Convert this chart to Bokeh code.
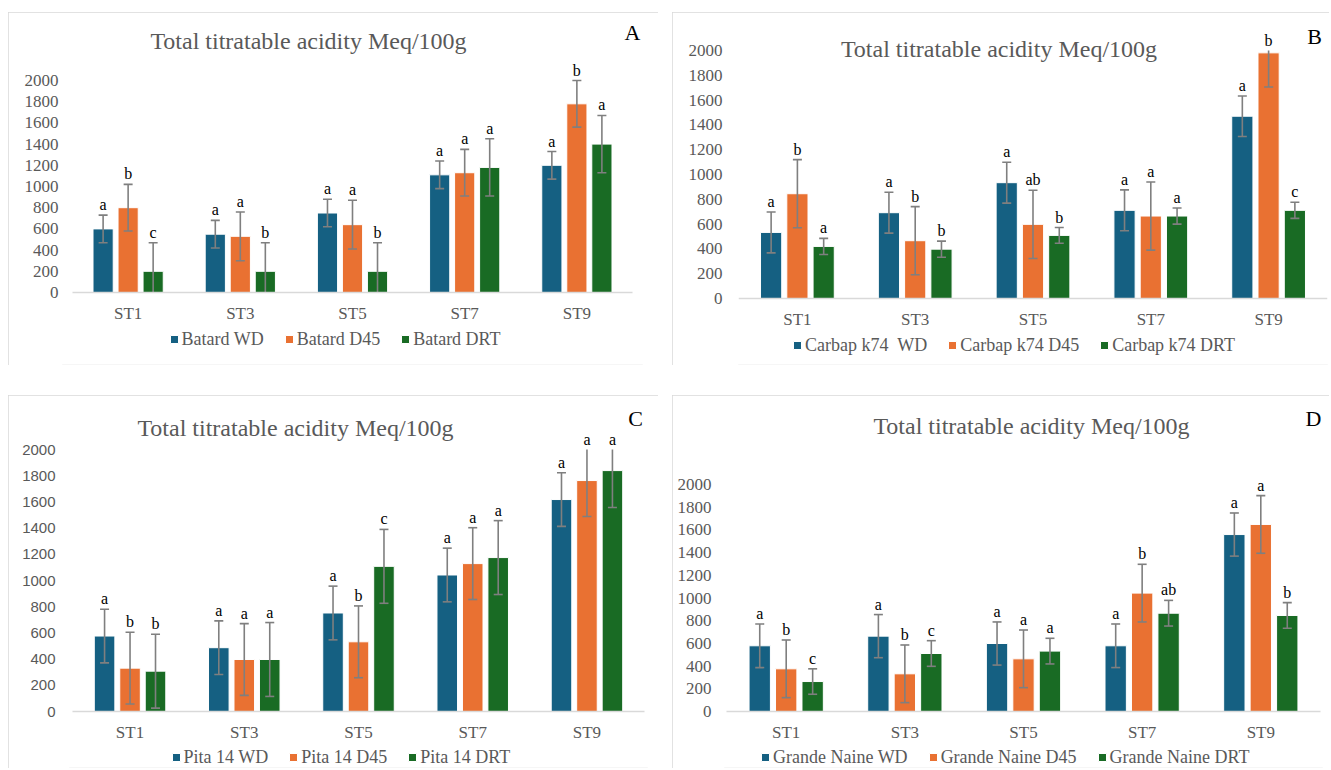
import numpy as np
from bokeh.plotting import figure
from bokeh.models import (ColumnDataSource, FactorRange, Range1d, FixedTicker,
                          Legend, LegendItem, Label, Spacer)
from bokeh.transform import dodge
from bokeh.layouts import row, column
from bokeh.core.properties import value
from bokeh.embed import file_html
from bokeh.resources import INLINE

# ---------------- data ----------------
cats = ["ST1", "ST3", "ST5", "ST7", "ST9"]
yticks = [0, 200, 400, 600, 800, 1000, 1200, 1400, 1600, 1800, 2000]
title_text = "Total titratable acidity Meq/100g"

# Panel A - Batard
a_names = ["Batard WD", "Batard D45", "Batard DRT"]
a_wd = [600, 550, 750, 1110, 1200]
a_wd_err = [130, 130, 130, 130, 130]
a_d45 = [800, 530, 640, 1130, 1780]
a_d45_err = [220, 230, 230, 220, 220]
a_drt = [200, 200, 200, 1180, 1400]
a_drt_err = [270, 270, 270, 270, 270]
a_wd_let = ["a", "a", "a", "a", "a"]
a_d45_let = ["b", "a", "a", "a", "b"]
a_drt_let = ["c", "b", "b", "a", "a"]

# Panel B - Carbap k74
b_names = ["Carbap k74  WD", "Carbap k74 D45", "Carbap k74 DRT"]
b_wd = [533, 692, 934, 711, 1470]
b_wd_err = [165, 165, 165, 165, 163]
b_d45 = [845, 466, 598, 665, 1981]
b_d45_err = [275, 275, 275, 275, 275]
b_drt = [420, 398, 509, 665, 711]
b_drt_err = [65, 65, 63, 65, 65]
b_wd_let = ["a", "a", "a", "a", "a"]
b_d45_let = ["b", "b", "ab", "a", "b"]
b_drt_let = ["a", "b", "b", "a", "c"]

# Panel C - Pita 14
c_names = ["Pita 14 WD", "Pita 14 D45", "Pita 14 DRT"]
c_wd = [576, 487, 752, 1042, 1618]
c_wd_err = [205, 205, 205, 205, 205]
c_d45 = [331, 397, 532, 1129, 1763]
c_d45_err = [274, 274, 274, 274, 274]
c_drt = [308, 397, 1108, 1175, 1839]
c_drt_err = [282, 282, 282, 282, 282]
c_wd_let = ["a", "a", "a", "a", "a"]
c_d45_let = ["b", "a", "b", "a", "a"]
c_drt_let = ["b", "a", "c", "a", "a"]

# Panel D - Grande Naine
d_names = ["Grande Naine WD", "Grande Naine D45", "Grande Naine DRT"]
d_wd = [579, 664, 599, 579, 1559]
d_wd_err = [192, 190, 190, 192, 190]
d_d45 = [376, 332, 464, 1043, 1648]
d_d45_err = [254, 254, 254, 254, 254]
d_drt = [264, 511, 532, 866, 846]
d_drt_err = [112, 113, 113, 113, 113]
d_wd_let = ["a", "a", "a", "a", "a"]
d_d45_let = ["b", "b", "a", "b", "a"]
d_drt_let = ["c", "c", "a", "ab", "b"]

# ---------------- style ----------------
SERIF = "Liberation Serif"
SANS = "Liberation Sans"
GRAY = "#595959"
ERR = "#7f7f7f"
COLORS = ["#156082", "#E97132", "#196B24"]
OFFS = [-0.223, 0.0, 0.223]
AXMAX = 2000
LEG_PAD = 2
LEG_H = 25


def make_panel(tag, names, series, errs, lets, g):
    # layout geometry (page pixel positions)
    u = (g["R5"] - g["L0"]) / 5.0
    side = g["pad"]  # synthetic units of padding on each side
    fl = int(round(g["L0"] - u * side))
    fr = int(round(g["R5"] + u * side))
    mbl = fl - g["fx"]
    mbr = g["fx"] + g["w"] - fr
    ftop = g["fy"] + 1
    fbot = g["fy"] + g["h"] - 1
    k = (g["Y0"] - g["Y2k"]) / 2000.0
    ytop = (g["Y0"] - ftop) / k
    ybot = (g["Y0"] - fbot) / k
    uu = (fr - fl) / (5.0 + 2 * side)
    s0 = -side

    def sx(px):
        return s0 + (px - fl) / uu

    def sy(py):
        return (g["Y0"] - py) / k

    xr = FactorRange(*cats, range_padding=side, range_padding_units="absolute")
    p = figure(width=g["w"], height=g["h"], x_range=xr,
               y_range=Range1d(ybot, ytop), output_backend="svg",
               toolbar_location=None, min_border_left=mbl,
               min_border_right=mbr, min_border_top=1,
               min_border_bottom=1)
    p.outline_line_color = None
    p.xgrid.visible = False
    p.ygrid.visible = False
    p.background_fill_color = "white"
    p.border_fill_color = "white"
    p.styles = {"outline": "1.5px solid #d9d9d9", "outline-offset": "-1.5px"}

    xa = p.xaxis[0]
    xa.fixed_location = 0
    xa.bounds = (0, 5)
    xa.axis_line_color = "#d9d9d9"
    xa.axis_line_width = 1.5
    xa.major_tick_line_color = None
    xa.minor_tick_line_color = None
    xa.major_tick_out = 0
    xa.major_tick_in = 0
    xa.major_label_text_font = SERIF
    xa.major_label_text_font_size = "17px"
    xa.major_label_text_color = GRAY
    xa.major_label_standoff = 11

    ya = p.yaxis[0]
    ya.ticker = FixedTicker(ticks=yticks)
    ya.axis_line_color = None
    ya.major_tick_line_color = None
    ya.minor_tick_line_color = None
    ya.major_tick_out = 0
    ya.major_tick_in = 0
    ya.major_label_text_font = g["yfont"]
    ya.major_label_text_font_size = g["yfsize"]
    ya.major_label_text_color = GRAY
    ya.major_label_standoff = max(0, int(round(fl - g["ylr"])))

    items = []
    for i in range(3):
        v = np.array(series[i], dtype=float)
        e = np.array(errs[i], dtype=float)
        up_raw = v + e
        lo_raw = v - e
        up = np.minimum(up_raw, AXMAX)
        lo = np.maximum(lo_raw, 0)
        cap_up = np.where(up_raw <= AXMAX, up_raw, np.nan)
        cap_lo = np.where(lo_raw >= 0, lo_raw, np.nan)
        src = ColumnDataSource(dict(cat=cats, val=v, up=up, lo=lo,
                                    cap_up=cap_up, cap_lo=cap_lo, let=lets[i]))
        xd = dodge("cat", OFFS[i], range=p.x_range)
        r = p.vbar(x=xd, top="val", bottom=0, width=0.18, source=src,
                   fill_color=COLORS[i], line_color="white", line_width=1)
        p.segment(x0=xd, y0="lo", x1=xd, y1="up", source=src,
                  line_color=ERR, line_width=1.6)
        p.scatter(x=xd, y="cap_up", marker="dash", size=9, source=src,
                  line_color=ERR, line_width=1.6)
        p.scatter(x=xd, y="cap_lo", marker="dash", size=9, source=src,
                  line_color=ERR, line_width=1.6)
        p.text(x=xd, y="up", text="let", source=src, text_align="center",
               text_baseline="bottom", y_offset=-2,
               text_font=value(SERIF), text_font_size="16px",
               text_color="black")
        items.append(LegendItem(label=names[i], renderers=[r]))

    p.add_layout(Label(x=sx(g["tx"]), y=sy(g["ty"]), text=title_text,
                       text_align="center", text_baseline="middle",
                       text_font=SERIF, text_font_size="24px",
                       text_color=GRAY))
    p.add_layout(Label(x=sx(g["lx"]), y=sy(g["ly"]), text=tag,
                       text_align="center", text_baseline="middle",
                       text_font=SERIF, text_font_size="22px",
                       text_color="black"))

    vx = g["legx"] - fl - LEG_PAD
    vy = fbot - (g["legcy"] + LEG_H / 2)
    leg = Legend(items=items, orientation="horizontal",
                 location=(vx, vy), padding=LEG_PAD,
                 margin=0, spacing=20,
                 label_standoff=3, glyph_width=10, glyph_height=10,
                 border_line_color=None, background_fill_alpha=0,
                 label_text_font=SERIF, label_text_font_size="18px",
                 label_text_color=GRAY)
    p.add_layout(leg)
    return p


gA = dict(fx=8, fy=12, w=650, h=353, L0=72, R5=632, pad=0.085, Y0=292, Y2k=80,
          ylr=57.5, tx=308, ty=40, lx=632, ly=32, legx=170.5, legcy=337,
          yfont=SERIF, yfsize="17px")
gB = dict(fx=672, fy=12, w=657, h=353, L0=738, R5=1327, pad=0.0, Y0=298, Y2k=50,
          ylr=722.5, tx=998.5, ty=48, lx=1314, ly=36, legx=794, legcy=343,
          yfont=SERIF, yfsize="17px")
gC = dict(fx=8, fy=395, w=650, h=373, L0=72, R5=644, pad=0.03, Y0=711, Y2k=449,
          ylr=55.4, tx=295, ty=427, lx=635, ly=418, legx=172.6, legcy=755,
          yfont=SANS, yfsize="15px")
gD = dict(fx=672, fy=395, w=657, h=373, L0=726, R5=1320, pad=0.02, Y0=711, Y2k=484,
          ylr=711, tx=1031, ty=425, lx=1313, ly=418, legx=762, legcy=755,
          yfont=SERIF, yfsize="17px")

pA = make_panel("A", a_names, [a_wd, a_d45, a_drt],
                [a_wd_err, a_d45_err, a_drt_err], [a_wd_let, a_d45_let, a_drt_let], gA)
pB = make_panel("B", b_names, [b_wd, b_d45, b_drt],
                [b_wd_err, b_d45_err, b_drt_err], [b_wd_let, b_d45_let, b_drt_let], gB)
pC = make_panel("C", c_names, [c_wd, c_d45, c_drt],
                [c_wd_err, c_d45_err, c_drt_err], [c_wd_let, c_d45_let, c_drt_let], gC)
pD = make_panel("D", d_names, [d_wd, d_d45, d_drt],
                [d_wd_err, d_d45_err, d_drt_err], [d_wd_let, d_d45_let, d_drt_let], gD)

layout = row(Spacer(width=8, height=10),
             column(Spacer(height=12, width=10),
                    row(pA, Spacer(width=14, height=10), pB),
                    Spacer(height=30, width=10),
                    row(pC, Spacer(width=14, height=10), pD)))

open("out.html", "w").write(file_html(layout, INLINE))
